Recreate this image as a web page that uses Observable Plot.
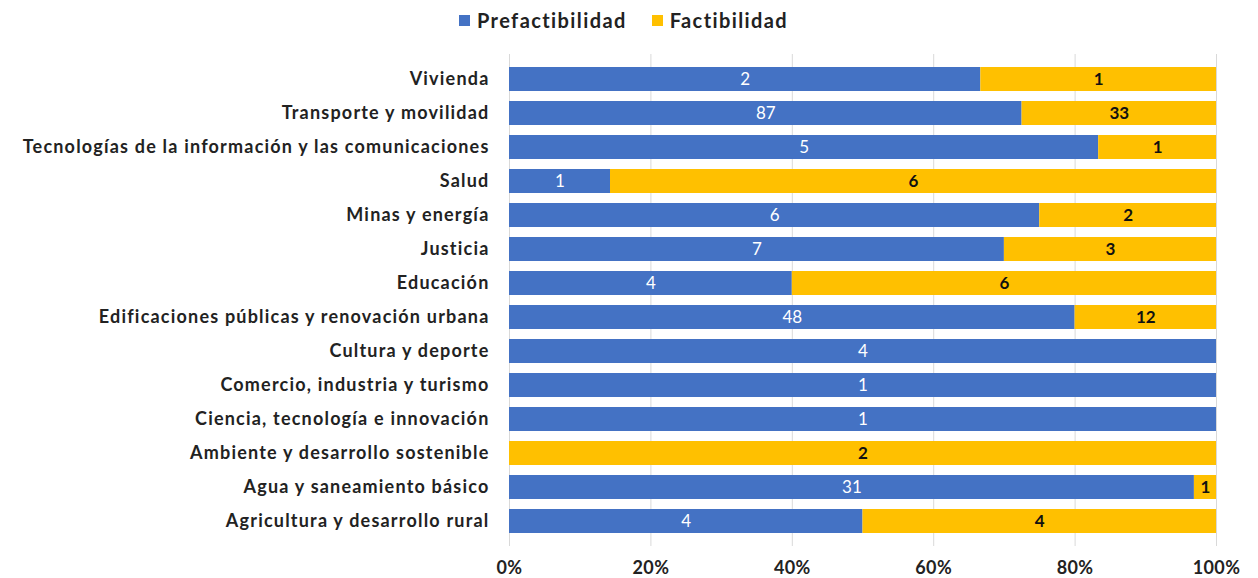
<!DOCTYPE html>
<html>
<head>
<meta charset="utf-8">
<script src="https://cdn.jsdelivr.net/npm/d3@7"></script>
<script src="https://cdn.jsdelivr.net/npm/@observablehq/plot@0.6"></script>
<style>
  html, body { margin: 0; padding: 0; background: #fff; }
  #wrap { width: 1258px; height: 578px; position: relative; font-family: Lato, "Open Sans", sans-serif; }
  #legend { position: absolute; top: 7px; left: 459px; height: 26px; display: flex; align-items: center; font-weight: 700; font-size: 20px; letter-spacing: 1.4px; color: #222; }
  .sw { width: 11px; height: 11px; display: inline-block; margin-right: 7px; }
  .item { display: flex; align-items: center; margin-right: 25px; }
  #chart { position: absolute; top: 39px; left: 0; }
</style>
</head>
<body>
<div id="wrap">
  <div id="legend"></div>
  <div id="chart"></div>
</div>
<script>
const categories = [
  "Vivienda",
  "Transporte y movilidad",
  "Tecnologías de la información y las comunicaciones",
  "Salud",
  "Minas y energía",
  "Justicia",
  "Educación",
  "Edificaciones públicas y renovación urbana",
  "Cultura y deporte",
  "Comercio, industria y turismo",
  "Ciencia, tecnología e innovación",
  "Ambiente y desarrollo sostenible",
  "Agua y saneamiento básico",
  "Agricultura y desarrollo rural"
];
const seriesNames = ["Prefactibilidad", "Factibilidad"];
const prefactibilidad = [2, 87, 5, 1, 6, 7, 4, 48, 4, 1, 1, 0, 31, 4];
const factibilidad   = [1, 33, 1, 6, 2, 3, 6, 12, 0, 0, 0, 2, 1, 4];
const xTicks = [0, 0.2, 0.4, 0.6, 0.8, 1];
const colors = ["#4472C4", "#FFC000"];

const rows = [];
categories.forEach((c, i) => {
  rows.push({cat: c, series: seriesNames[0], value: prefactibilidad[i]});
  rows.push({cat: c, series: seriesNames[1], value: factibilidad[i]});
});

// legend
const legend = document.getElementById("legend");
seriesNames.forEach((s, i) => {
  const it = document.createElement("div");
  it.className = "item";
  const sw = document.createElement("span");
  sw.className = "sw";
  sw.style.background = colors[i];
  it.appendChild(sw);
  it.appendChild(document.createTextNode(s));
  legend.appendChild(it);
});

const font = "Lato, 'Open Sans', sans-serif";
const labelFor = (name) => (d) => (d.series === name && d.value > 0 ? String(d.value) : null);
const chart = Plot.plot({
  width: 1258,
  height: 539,
  marginLeft: 509,
  marginRight: 42,
  marginTop: 15,
  marginBottom: 32,
  style: {fontFamily: font, background: "#fff"},
  x: {domain: [0, 1]},
  y: {domain: categories, padding: 0.3},
  color: {domain: seriesNames, range: colors},
  marks: [
    Plot.ruleX(xTicks, {stroke: "#d9d9d9", strokeWidth: 1}),
    Plot.barX(rows, Plot.stackX({offset: "normalize", x: "value", y: "cat", fill: "series"})),
    Plot.text(rows, Plot.stackX({
      offset: "normalize", x: "value", y: "cat", z: "series", text: labelFor(seriesNames[0]),
      fill: "white", fontSize: 17, letterSpacing: "0.5px"
    })),
    Plot.text(rows, Plot.stackX({
      offset: "normalize", x: "value", y: "cat", z: "series", text: labelFor(seriesNames[1]),
      fill: "#111", fontSize: 17, fontWeight: 700, letterSpacing: "0.5px"
    })),
    Plot.axisX({ticks: xTicks, tickFormat: d3.format(".0%"), tickSize: 0, tickPadding: 15, fontSize: 18, fontWeight: 700, fill: "#222", label: null}),
    Plot.axisY({tickSize: 0, tickPadding: 20, fontSize: 18, fontWeight: 700, fill: "#222", label: null})
  ]
});
chart.querySelectorAll("g[aria-label='y-axis tick label'] text").forEach(t => t.style.letterSpacing = "1.2px");
chart.querySelectorAll("g[aria-label='x-axis tick label'] text").forEach(t => t.style.letterSpacing = "0.4px");
document.getElementById("chart").appendChild(chart);
</script>
</body>
</html>
